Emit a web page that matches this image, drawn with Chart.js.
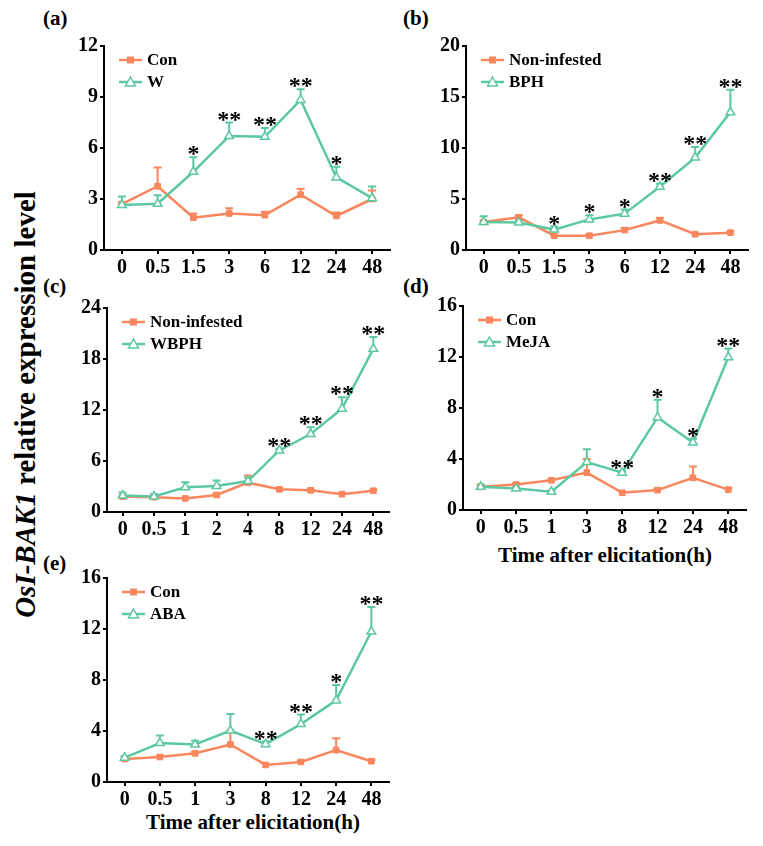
<!DOCTYPE html>
<html>
<head>
<meta charset="utf-8">
<script src="https://cdn.jsdelivr.net/npm/chart.js@4/dist/chart.umd.min.js"></script>
<style>
  body { margin: 0; background: #fff; width: 763px; height: 846px; position: relative; overflow: hidden;
         font-family: 'Liberation Serif', 'Times New Roman', serif; color: #000; }
  canvas { position: absolute; }
  .tag { position: absolute; font-weight: bold; font-size: 21px; line-height: 1; }
  .xt { position: absolute; font-weight: bold; font-size: 21px; line-height: 1; width: 300px; text-align: center; }
  .yt { position: absolute; font-weight: bold; font-size: 29px; line-height: 1; width: 600px; text-align: center;
        left: -275px; top: 390px; transform: rotate(-90deg); white-space: nowrap; }
</style>
</head>
<body>
<div class="tag" style="left:43px;top:8px">(a)</div>
<div class="tag" style="left:403px;top:8px">(b)</div>
<div class="tag" style="left:43px;top:276px">(c)</div>
<div class="tag" style="left:403px;top:276px">(d)</div>
<div class="tag" style="left:43px;top:553px">(e)</div>
<div class="xt" style="left:455px;top:545px">Time after elicitation(h)</div>
<div class="xt" style="left:103px;top:812px">Time after elicitation(h)</div>
<div class="yt"><i>OsI-BAK1</i> relative expression level</div>

<canvas id="chartA"></canvas>
<canvas id="chartB"></canvas>
<canvas id="chartC"></canvas>
<canvas id="chartD"></canvas>
<canvas id="chartE"></canvas>

<script>
const ORANGE = '#f9865c';
const GREEN = '#5cc8a0';

// (a) wounding
const timesA = ['0', '0.5', '1.5', '3', '6', '12', '24', '48'];
const conA = [2.7, 3.75, 1.9, 2.15, 2.05, 3.25, 2.0, 3.0];
const conAErr = [0.1, 1.1, 0.25, 0.3, 0.2, 0.35, 0.2, 0.5];
const wA = [2.65, 2.72, 4.6, 6.7, 6.66, 8.83, 4.27, 3.05];
const wAErr = [0.5, 0.5, 0.85, 0.8, 0.52, 0.63, 0.63, 0.68];
const sigA = ['', '', '*', '**', '**', '**', '*', ''];

// (b) BPH
const timesB = ['0', '0.5', '1.5', '3', '6', '12', '24', '48'];
const nonB = [2.75, 3.2, 1.4, 1.4, 1.95, 2.9, 1.55, 1.7];
const nonBErr = [0.1, 0.2, 0.1, 0.1, 0.2, 0.25, 0.1, 0.1];
const bphB = [2.75, 2.7, 2.0, 3.0, 3.56, 6.2, 9.06, 13.5];
const bphBErr = [0.55, 0.2, 0.3, 0.4, 0.4, 0.3, 1.05, 2.2];
const sigB = ['', '', '*', '*', '*', '**', '**', '**'];

// (c) WBPH
const timesC = ['0', '0.5', '1', '2', '4', '8', '12', '24', '48'];
const nonC = [1.82, 1.74, 1.6, 2.0, 3.45, 2.67, 2.55, 2.1, 2.5];
const nonCErr = [0.1, 0.1, 0.1, 0.15, 0.85, 0.15, 0.1, 0.1, 0.1];
const wbphC = [1.94, 1.82, 2.9, 3.06, 3.64, 7.24, 9.17, 12.15, 19.2];
const wbphCErr = [0.35, 0.3, 0.6, 0.65, 0.42, 0.2, 0.8, 1.35, 1.4];
const sigC = ['', '', '', '', '', '**', '**', '**', '**'];

// (d) MeJA
const timesD = ['0', '0.5', '1', '3', '8', '12', '24', '48'];
const conD = [1.82, 2.0, 2.33, 2.93, 1.35, 1.56, 2.52, 1.6];
const conDErr = [0.1, 0.1, 0.1, 1.07, 0.1, 0.1, 0.9, 0.1];
const mejaD = [1.82, 1.69, 1.43, 3.76, 2.93, 7.26, 5.29, 11.98];
const mejaDErr = [0.18, 0.1, 0.1, 1.0, 0.1, 1.38, 0.3, 0.68];
const sigD = ['', '', '', '', '**', '*', '*', '**'];

// (e) ABA
const timesE = ['0', '0.5', '1', '3', '8', '12', '24', '48'];
const conE = [1.8, 1.96, 2.25, 2.94, 1.34, 1.57, 2.5, 1.63];
const conEErr = [0.1, 0.1, 0.1, 1.1, 0.1, 0.1, 0.93, 0.1];
const abaE = [1.91, 3.05, 2.94, 4.03, 2.97, 4.54, 6.4, 11.8];
const abaEErr = [0.1, 0.6, 0.3, 1.3, 0.2, 0.75, 1.2, 1.93];
const sigE = ['', '', '', '', '**', '**', '*', '**'];

const FONT = "'Liberation Serif', 'Times New Roman', serif";

// error bars (upper only), stars and the in-plot legend
const extras = {
    id: 'extras',
    beforeDatasetsDraw(chart) {
        const ctx = chart.ctx;
        const y = chart.scales.y;
        chart.data.datasets.forEach((ds, i) => {
            const meta = chart.getDatasetMeta(i);
            ctx.save();
            ctx.strokeStyle = ds.borderColor;
            ctx.lineWidth = 2;
            meta.data.forEach((pt, j) => {
                const top = y.getPixelForValue(ds.data[j] + ds.err[j]);
                ctx.beginPath();
                ctx.moveTo(pt.x, pt.y);
                ctx.lineTo(pt.x, top);
                ctx.moveTo(pt.x - 4, top);
                ctx.lineTo(pt.x + 4, top);
                ctx.stroke();
            });
            ctx.restore();
        });
    },
    afterDraw(chart) {
        const ctx = chart.ctx;
        const y = chart.scales.y;
        const area = chart.chartArea;
        const opts = chart.options.plugins.extras;
        const treat = chart.data.datasets[0];
        const meta = chart.getDatasetMeta(0);
        ctx.save();
        ctx.fillStyle = '#000';
        ctx.font = 'bold 24px ' + FONT;
        ctx.textAlign = 'center';
        ctx.textBaseline = 'alphabetic';
        opts.stars.forEach((s, j) => {
            if (!s) return;
            const top = y.getPixelForValue(treat.data[j] + treat.err[j]);
            ctx.fillText(s, meta.data[j].x, top + 4);
        });

        // legend: control first, treatment second
        const rows = [chart.data.datasets[1], chart.data.datasets[0]];
        ctx.font = 'bold 17px ' + FONT;
        ctx.textAlign = 'left';
        ctx.textBaseline = 'middle';
        rows.forEach((ds, k) => {
            const ly = area.top + 14 + k * 22;
            const x0 = area.left + 15, x1 = area.left + 38, xm = (x0 + x1) / 2;
            ctx.strokeStyle = ds.borderColor;
            ctx.lineWidth = 2.5;
            ctx.beginPath();
            ctx.moveTo(x0, ly);
            ctx.lineTo(x1, ly);
            ctx.stroke();
            if (ds.pointStyle === 'rect') {
                ctx.fillStyle = ds.borderColor;
                ctx.fillRect(xm - 3.5, ly - 3.5, 7, 7);
            } else {
                ctx.fillStyle = '#fff';
                ctx.lineWidth = 1.5;
                ctx.beginPath();
                ctx.moveTo(xm, ly - 5);
                ctx.lineTo(xm + 5, ly + 4);
                ctx.lineTo(xm - 5, ly + 4);
                ctx.closePath();
                ctx.fill();
                ctx.stroke();
            }
            ctx.fillStyle = '#000';
            ctx.fillText(ds.label, x1 + 5, ly + 1);
        });
        ctx.restore();
    }
};

// places a panel so its plot area lands on (L, T)-(R, B)
const makePanel = (id, box, labels, ctrlName, ctrl, ctrlErr, trtName, trt, trtErr, stars, yMax, yStep) => {
    const canvas = document.getElementById(id);
    const yw = 60, xh = 40, padT = 12, padR = 8;
    canvas.width = box.R - box.L + yw + padR;
    canvas.height = box.B - box.T + padT + xh;
    canvas.style.left = (box.L - yw) + 'px';
    canvas.style.top = (box.T - padT) + 'px';

    new Chart(canvas, {
        type: 'line',
        data: {
            labels: labels,
            datasets: [{
                label: trtName,
                data: trt,
                err: trtErr,
                borderColor: GREEN,
                backgroundColor: '#fff',
                borderWidth: 2.5,
                pointStyle: 'triangle',
                pointRadius: 5,
                pointBorderWidth: 1.5,
                tension: 0,
                order: 0
            }, {
                label: ctrlName,
                data: ctrl,
                err: ctrlErr,
                borderColor: ORANGE,
                backgroundColor: ORANGE,
                borderWidth: 2.5,
                pointStyle: 'rect',
                pointRadius: 4,
                pointBorderWidth: 1,
                tension: 0,
                order: 1
            }]
        },
        options: {
            responsive: false,
            animation: false,
            layout: { padding: { top: padT, right: padR, left: 0, bottom: 0 } },
            plugins: {
                legend: { display: false },
                tooltip: { enabled: false },
                extras: { stars: stars }
            },
            scales: {
                x: {
                    offset: true,
                    border: { color: '#000', width: 2 },
                    grid: { drawOnChartArea: false, drawTicks: true, tickLength: 4, color: '#000', lineWidth: 2, offset: false },
                    ticks: { color: '#000', font: { family: FONT, size: 20, weight: 'bold' }, padding: 2, maxRotation: 0, autoSkip: false },
                    afterFit: (s) => { s.height = xh; }
                },
                y: {
                    min: 0,
                    max: yMax,
                    border: { color: '#000', width: 2 },
                    grid: { drawOnChartArea: false, drawTicks: true, tickLength: 4, color: '#000', lineWidth: 2 },
                    ticks: { stepSize: yStep, color: '#000', font: { family: FONT, size: 20, weight: 'bold' }, padding: 2 },
                    afterFit: (s) => { s.width = yw; }
                }
            }
        },
        plugins: [extras]
    });
};

makePanel('chartA', { L: 104, T: 44, R: 390, B: 250 }, timesA, 'Con', conA, conAErr, 'W', wA, wAErr, sigA, 12, 3);
makePanel('chartB', { L: 466, T: 44, R: 748, B: 250 }, timesB, 'Non-infested', nonB, nonBErr, 'BPH', bphB, bphBErr, sigB, 20, 5);
makePanel('chartC', { L: 107, T: 306, R: 389, B: 512 }, timesC, 'Non-infested', nonC, nonCErr, 'WBPH', wbphC, wbphCErr, sigC, 24, 6);
makePanel('chartD', { L: 463, T: 304, R: 746, B: 510 }, timesD, 'Con', conD, conDErr, 'MeJA', mejaD, mejaDErr, sigD, 16, 4);
makePanel('chartE', { L: 107, T: 576, R: 389, B: 782 }, timesE, 'Con', conE, conEErr, 'ABA', abaE, abaEErr, sigE, 16, 4);
</script>
</body>
</html>
